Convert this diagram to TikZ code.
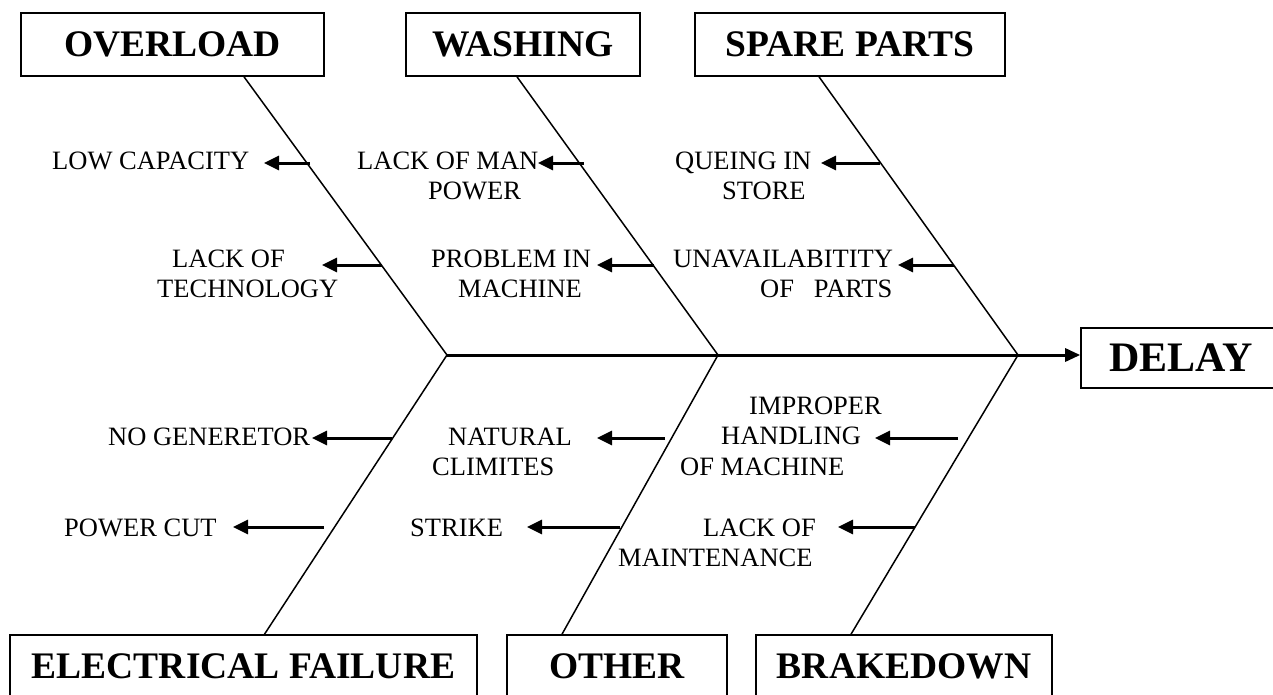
\documentclass[tikz,border=0pt]{standalone}
\usepackage{fontspec}
\setmainfont{Liberation Serif}
\usetikzlibrary{arrows.meta,positioning,calc}

\begin{document}
\begin{tikzpicture}[x=1pt,y=-1pt,>={Triangle[length=15pt,width=14pt]},
  title/.style={draw,line width=1.6pt,inner sep=0pt,minimum height=63pt,font=\fontsize{37.5}{40}\selectfont\bfseries},
  cause/.style={anchor=west,align=left,inner sep=0pt,font=\fontsize{26.5}{30.5}\selectfont},
  bone/.style={line width=1.5pt},
  twig/.style={->,line width=3pt}]
\useasboundingbox (0,0) rectangle (1273,694);
\node[title,minimum width=303pt] (overload) at (172.5,44.5) {OVERLOAD};
\node[title,minimum width=234pt] (washing) at (523,44.5) {WASHING};
\node[title,minimum width=310pt] (spare) at (850,44.5) {SPARE PARTS};
\node[title,minimum width=467pt] (electric) at (243.5,666.5) {ELECTRICAL FAILURE};
\node[title,minimum width=220pt] (other) at (617,666.5) {OTHER};
\node[title,minimum width=296pt] (brake) at (904,666.5) {BRAKEDOWN};
\node[title,minimum width=200pt,minimum height=60pt,font=\fontsize{42}{44}\selectfont\bfseries] (delay) at (1181,358) {DELAY};
\coordinate (j1) at (447,355);
\coordinate (j2) at (718,355);
\coordinate (j3) at (1018,355);
\draw[bone] ([xshift=71.5pt]overload.south) -- (j1) -- ([xshift=21pt]electric.north);
\draw[bone] ([xshift=-6pt]washing.south) -- (j2) -- ([xshift=-55pt]other.north);
\draw[bone] ([xshift=-31pt]spare.south) -- (j3) -- ([xshift=-53pt]brake.north);
\draw[line width=3pt,-{Triangle[length=15pt,width=13pt]}] (j1) -- (j1 -| delay.west);
\node[cause] (lowcap) at (52,160.5) {LOW CAPACITY};
\node[cause] (manpower) at (357,176) {LACK OF MAN\\\hspace*{71pt}POWER};
\node[cause] (technology) at (157,274) {\hspace*{15pt}LACK OF\\TECHNOLOGY};
\node[cause] (problem) at (431,274) {PROBLEM IN\\\hspace*{27pt}MACHINE};
\node[cause] (queing) at (675,176) {QUEING IN\\\hspace*{47pt}STORE};
\node[cause] (parts) at (673,274) {UNAVAILABITITY\\\hspace*{87pt}OF~~~PARTS};
\node[cause] (generator) at (108,437) {NO GENERETOR};
\node[cause] (powercut) at (64,528.3) {POWER CUT};
\node[cause] (climate) at (432,452) {\hspace*{16pt}NATURAL\\CLIMITES};
\node[cause] (strike) at (410,528.3) {STRIKE};
\node[cause] (handling) at (680,436.2) {\hspace*{69pt}IMPROPER\\\hspace*{41pt}HANDLING\\OF MACHINE};
\node[cause] (maintenance) at (618,543) {\hspace*{85pt}LACK OF\\MAINTENANCE};
\coordinate (lowcap-s) at (310,163);  \coordinate (lowcap-t) at (264,163);
\coordinate (manpower-s) at (584,163); \coordinate (manpower-t) at (538,163);
\coordinate (technology-s) at (382,265); \coordinate (technology-t) at (322,265);
\coordinate (problem-s) at (654,265); \coordinate (problem-t) at (597,265);
\coordinate (queing-s) at (880,163); \coordinate (queing-t) at (821,163);
\coordinate (parts-s) at (954,265); \coordinate (parts-t) at (898,265);
\coordinate (generator-s) at (392,438); \coordinate (generator-t) at (312,438);
\coordinate (powercut-s) at (324,527); \coordinate (powercut-t) at (233,527);
\coordinate (climate-s) at (665,438); \coordinate (climate-t) at (597,438);
\coordinate (strike-s) at (620,527); \coordinate (strike-t) at (527,527);
\coordinate (handling-s) at (958,438); \coordinate (handling-t) at (875,438);
\coordinate (maintenance-s) at (915,527); \coordinate (maintenance-t) at (838,527);
\foreach \c in {lowcap,manpower,technology,problem,queing,parts,generator,powercut,climate,strike,handling,maintenance}
  \path[twig] (\c-s) edge (\c-t);
\end{tikzpicture}
\end{document}
